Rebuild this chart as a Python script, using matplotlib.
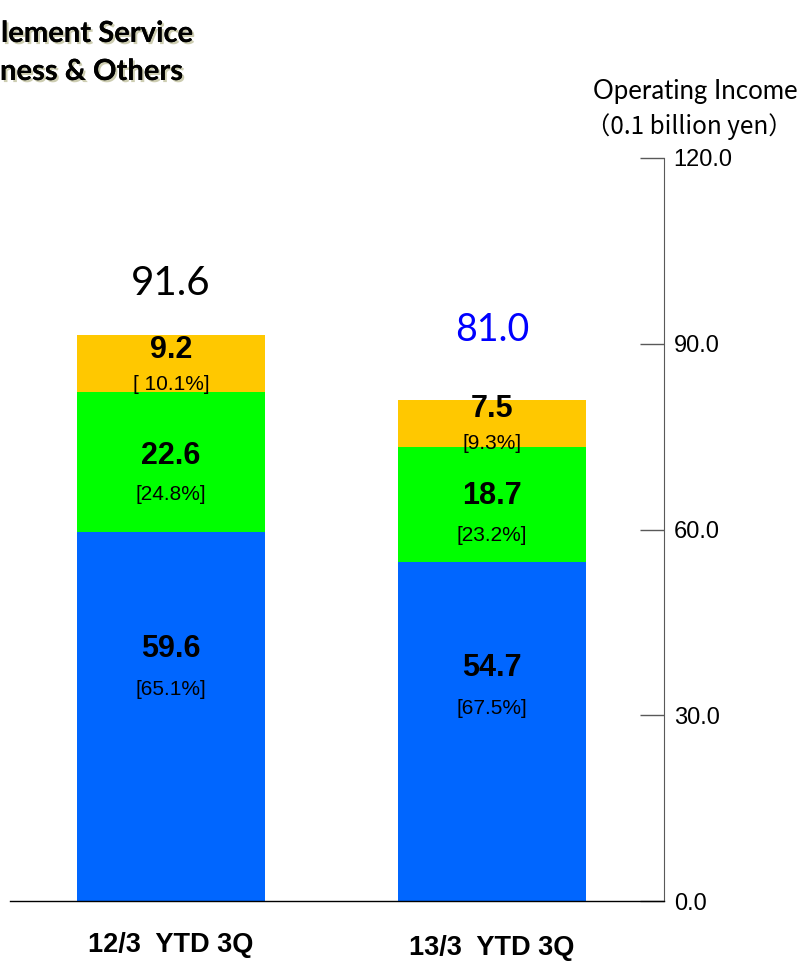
import matplotlib
matplotlib.use("Agg")
import matplotlib.pyplot as plt
import matplotlib.patheffects as pe

# ---------------- data ----------------
categories = ["12/3  YTD 3Q", "13/3  YTD 3Q"]
settlement = [59.6, 54.7]          # blue
business = [22.6, 18.7]            # green
others = [9.2, 7.5]                # orange
settlement_pct = ["[65.1%]", "[67.5%]"]
business_pct = ["[24.8%]", "[23.2%]"]
others_pct = ["[ 10.1%]", "[9.3%]"]
totals = [91.6, 81.0]
total_labels = ["91.6", "81.0"]
yticks = [0, 30, 60, 90, 120]
ytick_labels = ["0.0", "30.0", "60.0", "90.0", "120.0"]
legend_lines = ["lement Service", "ness & Others"]

arial = "Liberation Sans"
cal = "Lato"

W, H = 803, 961
fig = plt.figure(figsize=(W / 100, H / 100), dpi=100)
ax = fig.add_axes([10 / W, (H - 901) / H, (664 - 10) / W, (901 - 158) / H])

x = [0, 1]
width = 0.586
blue, green, orange = "#0066FF", "#00FF00", "#FFC800"
ax.bar(x, settlement, width, color=blue, linewidth=0, zorder=2)
ax.bar(x, business, width, bottom=settlement, color=green, linewidth=0, zorder=2)
bot2 = [a + b for a, b in zip(settlement, business)]
ax.bar(x, others, width, bottom=bot2, color=orange, linewidth=0, zorder=2)

ax.set_xlim(-0.5016, 1.536)
ax.set_ylim(0, 120)
ax.set_xticks([])
ax.set_yticks(yticks)
ax.set_yticklabels(ytick_labels, fontfamily=arial, fontsize=17)
ax.yaxis.tick_right()
ax.tick_params(axis="y", direction="in", length=17.5, width=1.0, color="#595959", pad=7)
for s in ["left", "top"]:
    ax.spines[s].set_visible(False)
ax.spines["right"].set_color("#595959")
ax.spines["bottom"].set_color("black")
ax.spines["bottom"].set_linewidth(1.0)

# segment labels
def seg_labels(bottoms, heights, pcts, frac, up, down):
    for i in range(2):
        yc = bottoms[i] + heights[i] * frac
        ax.annotate(f"{heights[i]:.1f}", (x[i], yc), xytext=(0, up), textcoords="offset points",
                    ha="center", va="center", fontsize=22, fontweight="bold",
                    fontfamily=arial, zorder=3)
        ax.annotate(pcts[i], (x[i], yc), xytext=(0, -down), textcoords="offset points",
                    ha="center", va="center", fontsize=15, fontfamily=arial, zorder=3)

seg_labels([0, 0], settlement, settlement_pct, 0.635, 13, 16.5)
seg_labels(settlement, business, business_pct, 0.42, 12.5, 15.5)
seg_labels(bot2, others, others_pct, 0.47, 11, 13.5)

# totals
tot_off = [36, 50]
tot_col = ["black", "#0000FF"]
tot_size = [29, 27]
for i in range(2):
    ax.annotate(total_labels[i], (x[i], totals[i]), xytext=(0, tot_off[i]), textcoords="offset points",
                ha="center", va="center", fontsize=tot_size[i], color=tot_col[i], fontfamily=cal)

# category labels
cat_y = [945, 948]
for i in range(2):
    ax.annotate(categories[i], (x[i], 0), xytext=(0, -(cat_y[i] - 901) * 0.72), textcoords="offset points",
                ha="center", va="center", fontsize=19.5, fontweight="bold", fontfamily=arial,
                annotation_clip=False)

# axis title
fig.text(798 / W, 1 - 92 / H, "Operating Income", ha="right", va="center", fontsize=18.5,
         fontfamily=[cal, "Noto Sans CJK JP"])
fig.text(586 / W, 1 - 127 / H, "（0.1 billion yen）", ha="left", va="center", fontsize=17.5,
         fontfamily=["Noto Sans CJK JP"])

# clipped legend text (visible part) with shadow
shadow = [pe.withSimplePatchShadow(offset=(1.5, -1.5), shadow_rgbFace="#b8b890", alpha=0.7), pe.Normal()]
fig.text(1 / W, 1 - 34 / H, legend_lines[0], ha="left", va="center", fontsize=21,
         fontweight="bold", fontfamily=cal, path_effects=shadow)
fig.text(0 / W, 1 - 72 / H, legend_lines[1], ha="left", va="center", fontsize=21,
         fontweight="bold", fontfamily=cal, path_effects=shadow)

fig.savefig("out.png", dpi=100)
